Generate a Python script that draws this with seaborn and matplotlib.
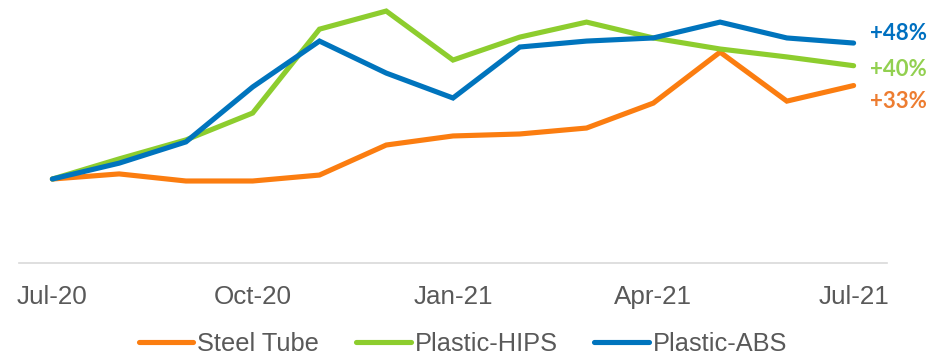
import numpy as np
import pandas as pd
import matplotlib
matplotlib.use("Agg")
import matplotlib.pyplot as plt
import seaborn as sns

# Monthly price index (Jul-20 = 100)
months = ["Jul-20", "Aug-20", "Sep-20", "Oct-20", "Nov-20", "Dec-20", "Jan-21",
          "Feb-21", "Mar-21", "Apr-21", "May-21", "Jun-21", "Jul-21"]
steel_tube = [100, 101.8, 99.3, 99.3, 101.4, 112.0, 115.2, 115.9, 118.0, 126.8, 144.8, 127.5, 133]
plastic_hips = [100, 107.1, 113.8, 123.3, 152.9, 159.3, 142.0, 150.1, 155.4, 149.8, 145.9, 143.1, 140]
plastic_abs = [100, 105.6, 113.1, 132.5, 148.7, 137.4, 128.6, 146.6, 148.7, 149.8, 155.4, 149.8, 148]

series_names = ["Steel Tube", "Plastic-HIPS", "Plastic-ABS"]
series_values = [steel_tube, plastic_hips, plastic_abs]
line_colors = ["#FB7D10", "#8DCD2E", "#0074BD"]
label_colors = ["#ED7D31", "#92D050", "#0070C0"]
end_labels = ["+33%", "+40%", "+48%"]
tick_months = ["Jul-20", "Oct-20", "Jan-21", "Apr-21", "Jul-21"]

rows = []
for name, vals in zip(series_names, series_values):
    for i, (m, v) in enumerate(zip(months, vals)):
        rows.append({"pos": i, "month": m, "series": name, "index": v})
df = pd.DataFrame(rows)

sns.set_theme(style="white")
plt.rcParams["font.family"] = ["Liberation Sans", "DejaVu Sans"]

fig = plt.figure(figsize=(9.31, 3.59), dpi=100)
ax = fig.add_axes([19 / 931, (359 - 263) / 359, (887 - 19) / 931, 263 / 359])

sns.lineplot(data=df, x="pos", y="index", hue="series", hue_order=series_names,
             palette=line_colors, linewidth=3.7, ax=ax, legend=True,
             solid_capstyle="round", solid_joinstyle="miter")
for ln in ax.get_lines():
    ln.set_clip_on(False)

ax.set_xlim(-0.5, len(months) - 0.5)
ax.set_ylim(70.35, 163.2)

# category boundaries get tick marks, month labels sit between them
ax.set_xticks(np.arange(-0.5, len(months) - 0.5, 3))
ax.set_xticklabels([])
label_pos = [months.index(m) for m in tick_months]
ax.set_xticks(label_pos, minor=True)
ax.set_xticklabels(tick_months, minor=True)
ax.tick_params(axis="x", which="major", length=5.5, width=1.2, color="#D0D0D0", direction="out")
ax.tick_params(axis="x", which="minor", length=0, pad=16, labelsize=18.7, labelcolor="#595959")
ax.set_yticks([])
ax.set_xlabel("")
ax.set_ylabel("")

for side in ["left", "right", "top"]:
    ax.spines[side].set_visible(False)
ax.spines["bottom"].set_color("#D9D9D9")
ax.spines["bottom"].set_linewidth(1.2)

# end-of-period change labels
label_y_px = [101, 69, 34]
for text, col, ypx in zip(end_labels, label_colors, label_y_px):
    fig.text(870 / 931, 1 - ypx / 359, text, color=col, fontsize=16,
             fontweight="bold", family=["Lato", "DejaVu Sans"], va="center", ha="left")

handles, labels = ax.get_legend_handles_labels()
ax.get_legend().remove()
for h in handles:
    h.set_linewidth(3.7)
    h.set_solid_capstyle("round")
fig.legend(handles, labels, loc="center", bbox_to_anchor=(463 / 931, 1 - 344 / 359),
           ncol=3, frameon=False, fontsize=18.3, labelcolor="#595959",
           handlelength=2.15, handletextpad=0.15, columnspacing=1.45, borderaxespad=0)

fig.savefig("out.png", dpi=100)
